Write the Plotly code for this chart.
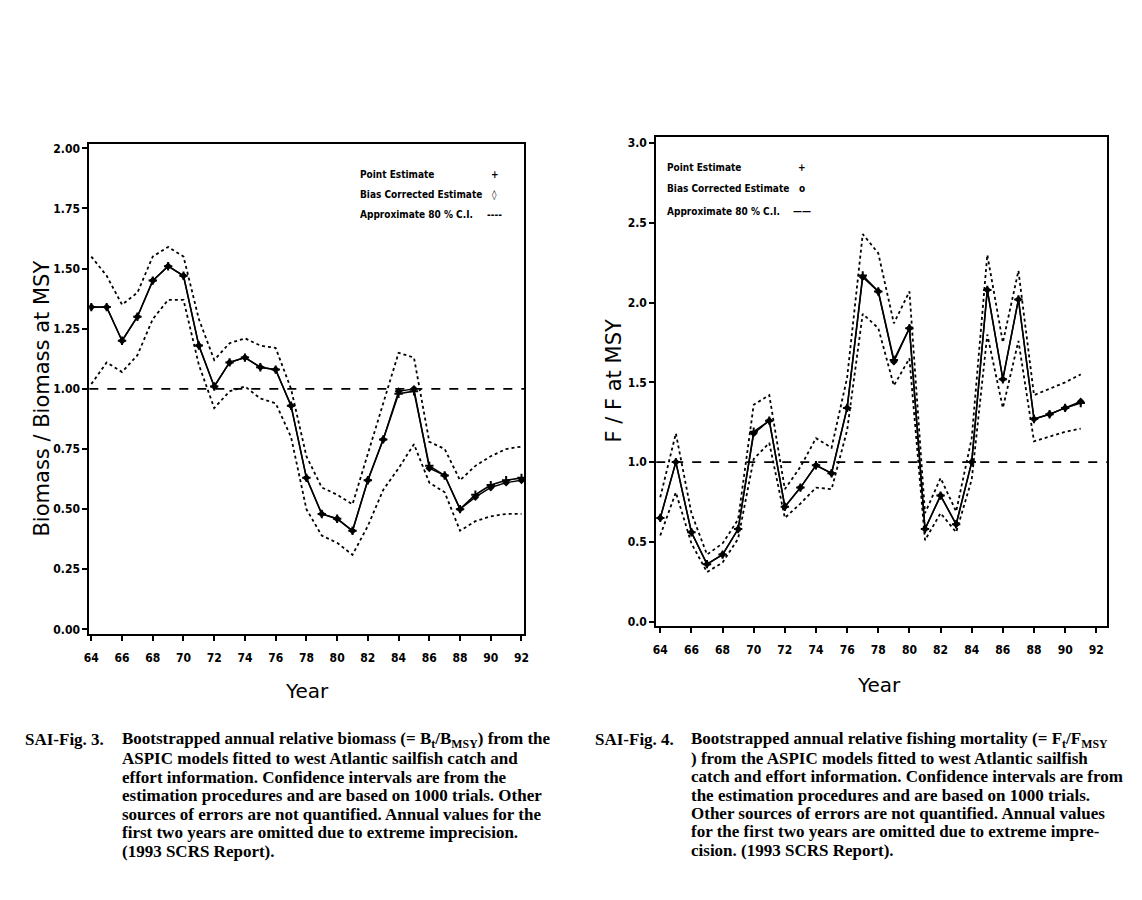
import plotly.graph_objects as go

# ---------------- data ----------------
years_b = list(range(64, 93))
b_point = [1.34, 1.34, 1.20, 1.30, 1.45, 1.51, 1.47, 1.18, 1.01, 1.11, 1.13, 1.09, 1.08, 0.93,
           0.63, 0.48, 0.46, 0.41, 0.62, 0.79, 0.98, 0.99, 0.68, 0.64, 0.50, 0.56, 0.60, 0.62, 0.63]
b_bias = [1.34, 1.34, 1.20, 1.30, 1.45, 1.51, 1.47, 1.18, 1.01, 1.11, 1.13, 1.09, 1.08, 0.93,
          0.63, 0.48, 0.46, 0.41, 0.62, 0.79, 0.99, 1.00, 0.67, 0.64, 0.50, 0.55, 0.59, 0.61, 0.62]
b_upper = [1.55, 1.47, 1.35, 1.40, 1.55, 1.59, 1.55, 1.29, 1.12, 1.19, 1.21, 1.18, 1.17, 1.00,
           0.72, 0.59, 0.56, 0.52, 0.73, 0.94, 1.15, 1.13, 0.78, 0.75, 0.62, 0.68, 0.72, 0.75, 0.76]
b_lower = [1.02, 1.11, 1.07, 1.14, 1.29, 1.37, 1.37, 1.10, 0.92, 0.99, 1.01, 0.96, 0.94, 0.80,
           0.50, 0.39, 0.36, 0.31, 0.43, 0.58, 0.67, 0.77, 0.61, 0.57, 0.41, 0.45, 0.47, 0.48, 0.48]

years_f = list(range(64, 92))
f_point = [0.65, 1.00, 0.56, 0.36, 0.42, 0.58, 1.19, 1.26, 0.72, 0.84, 0.98, 0.93, 1.34, 2.17,
           2.07, 1.64, 1.84, 0.58, 0.79, 0.61, 1.00, 2.08, 1.52, 2.02, 1.27, 1.30, 1.34, 1.37]
f_bias = [0.65, 1.00, 0.56, 0.36, 0.42, 0.58, 1.18, 1.26, 0.72, 0.84, 0.98, 0.93, 1.34, 2.16,
          2.07, 1.63, 1.84, 0.58, 0.79, 0.61, 1.00, 2.08, 1.52, 2.02, 1.27, 1.30, 1.34, 1.38]
f_upper = [0.78, 1.18, 0.68, 0.42, 0.49, 0.64, 1.36, 1.42, 0.83, 0.97, 1.15, 1.09, 1.53, 2.43,
           2.31, 1.87, 2.07, 0.68, 0.90, 0.69, 1.15, 2.30, 1.75, 2.20, 1.42, 1.46, 1.50, 1.55]
f_lower = [0.54, 0.81, 0.49, 0.31, 0.37, 0.52, 1.02, 1.12, 0.65, 0.74, 0.84, 0.83, 1.20, 1.93,
           1.84, 1.48, 1.65, 0.51, 0.68, 0.56, 0.89, 1.80, 1.34, 1.76, 1.13, 1.16, 1.19, 1.21]

ref_level = 1.0
x_ticks = list(range(64, 93, 2))
b_ticks = [0.0, 0.25, 0.5, 0.75, 1.0, 1.25, 1.5, 1.75, 2.0]
f_ticks = [0.0, 0.5, 1.0, 1.5, 2.0, 2.5, 3.0]

legend_labels = ["Point Estimate", "Bias Corrected Estimate", "Approximate 80 % C.I."]

cap3_label = "SAI-Fig. 3."
cap3_lines = [
    "Bootstrapped annual relative biomass (= B<sub>t</sub>/B<sub>MSY</sub>) from the",
    "ASPIC models fitted to west Atlantic sailfish catch and",
    "effort information. Confidence intervals are from the",
    "estimation procedures and are based on 1000 trials. Other",
    "sources of errors are not quantified. Annual values for the",
    "first two years are omitted due to extreme imprecision.",
    "(1993 SCRS Report).",
]
cap4_label = "SAI-Fig. 4."
cap4_lines = [
    "Bootstrapped annual relative fishing mortality (= F<sub>t</sub>/F<sub>MSY</sub>",
    ") from the ASPIC models fitted to west Atlantic sailfish",
    "catch and effort information. Confidence intervals are from",
    "the estimation procedures and are based on 1000 trials.",
    "Other sources of errors are not quantified. Annual values",
    "for the first two years are omitted due to extreme impre-",
    "cision. (1993 SCRS Report).",
]

# ---------------- figure ----------------
OFF = 8                      # default page body margin
W, H = 1142 - 2 * OFF, 900 - 2 * OFF
def px(x):
    return (x - OFF) / W
def py(y):
    return 1 - (y - OFF) / H

NARROW = "Liberation Sans Narrow, Arial Narrow, DejaVu Sans Condensed, sans-serif"
SERIF = "Liberation Serif, Times New Roman, serif"

fig = go.Figure()

def add_panel(xs, point, bias, upper, lower, xa, ya):
    fig.add_trace(go.Scatter(x=xs, y=upper, mode="lines", xaxis=xa, yaxis=ya,
                             line=dict(color="black", width=1.8, dash="dot"), showlegend=False))
    fig.add_trace(go.Scatter(x=xs, y=lower, mode="lines", xaxis=xa, yaxis=ya,
                             line=dict(color="black", width=1.8, dash="dot"), showlegend=False))
    fig.add_trace(go.Scatter(x=xs, y=bias, mode="lines+markers", xaxis=xa, yaxis=ya,
                             line=dict(color="black", width=1.4),
                             marker=dict(symbol="diamond", size=6, color="black"), showlegend=False))
    fig.add_trace(go.Scatter(x=xs, y=point, mode="lines+markers", xaxis=xa, yaxis=ya,
                             line=dict(color="black", width=1.6),
                             marker=dict(symbol="cross-thin", size=6,
                                         line=dict(color="black", width=2)), showlegend=False))

add_panel(years_b, b_point, b_bias, b_upper, b_lower, "x", "y")
add_panel(years_f, f_point, f_bias, f_upper, f_lower, "x2", "y2")

tickfont = dict(family=NARROW, size=12, color="black", weight="bold")
axis_common = dict(showline=True, mirror=True, linecolor="black", linewidth=2,
                   ticks="outside", ticklen=5, tickwidth=1.5, tickcolor="black",
                   showgrid=False, zeroline=False, tickfont=tickfont)

fig.update_layout(
    width=W, height=H, autosize=False,
    margin=dict(l=0, r=0, t=0, b=0),
    paper_bgcolor="white", plot_bgcolor="white",
    showlegend=False,
    xaxis=dict(domain=[px(85), px(524)], range=[63.87, 92.19], tickvals=x_ticks,
               anchor="y", ticklabelstandoff=6, **axis_common),
    yaxis=dict(domain=[py(635), py(142)], range=[-0.021, 2.017], tickvals=b_ticks,
               tickformat=".2f", anchor="x", **axis_common),
    xaxis2=dict(domain=[px(657), px(1112)], range=[63.74, 92.7], tickvals=x_ticks,
                anchor="y2", ticklabelstandoff=6, **axis_common),
    yaxis2=dict(domain=[py(627), py(135)], range=[-0.031, 3.037], tickvals=f_ticks,
                tickformat=".1f", anchor="x2", **axis_common),
)

# reference lines at 1.0
fig.add_shape(type="line", xref="x domain", yref="y", x0=0, x1=1, y0=ref_level, y1=ref_level,
              line=dict(color="black", width=1.8, dash="dash"))
fig.add_shape(type="line", xref="x2 domain", yref="y2", x0=0, x1=1, y0=ref_level, y1=ref_level,
              line=dict(color="black", width=1.8, dash="dash"))

ann = []
def A(x, y, text, font, xanchor="center", yanchor="middle", **kw):
    ann.append(dict(x=px(x), y=py(y), xref="paper", yref="paper", text=text,
                    xanchor=xanchor, yanchor=yanchor, showarrow=False, font=font, **kw))

# axis titles
titlefont = dict(family="DejaVu Sans", size=21, color="black")
A(37, 398, "Biomass / Biomass at MSY", titlefont, textangle=-90)
A(614, 380, "F / F at MSY", titlefont, textangle=-90)
A(305, 692, "Year", dict(family="DejaVu Sans", size=20, color="black"))
A(882, 686, "Year", dict(family="DejaVu Sans", size=20, color="black"))

# legends
legfont = dict(family=NARROW, size=10, color="black", weight="bold")
symbols_left = ["+", "◊", "----"]
symbols_right = ["+", "o", "——"]
for lab, sym, yy in zip(legend_labels, symbols_left, [172, 193, 213]):
    A(356, yy, lab, legfont, xanchor="left")
    A(494, yy, sym, legfont)
for lab, sym, yy in zip(legend_labels, symbols_right, [165, 187, 210]):
    A(666, yy, lab, legfont, xanchor="left")
    A(804, yy, sym, legfont)

# captions
capfont = dict(family=SERIF, size=17, color="black", weight="bold")
A(18, 741, cap3_label, capfont, xanchor="left")
for i, line in enumerate(cap3_lines):
    A(116, 741 + i * 18.7, line, capfont, xanchor="left")
A(593, 741, cap4_label, capfont, xanchor="left")
for i, line in enumerate(cap4_lines):
    A(690, 741 + i * 18.5, line, capfont, xanchor="left")

fig.update_layout(annotations=ann)
fig.write_html("out.html")
